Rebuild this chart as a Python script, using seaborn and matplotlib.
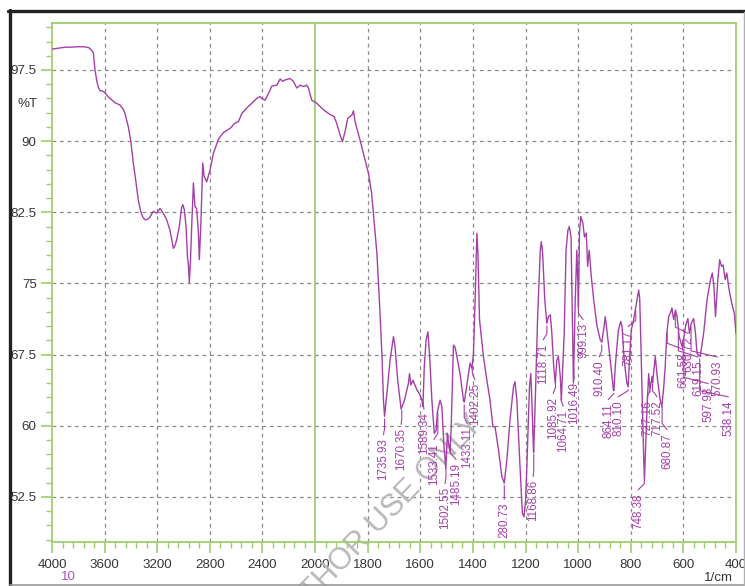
import numpy as np
import pandas as pd
import matplotlib
matplotlib.use("Agg")
import matplotlib.pyplot as plt
import seaborn as sns
from matplotlib.lines import Line2D
from matplotlib.ticker import FixedLocator

# ---- FTIR spectrum (wavenumber in 1/cm, transmittance in %T) ----
wavenumber = [
    4000, 3950, 3900, 3863, 3800, 3762, 3720, 3700, 3686, 3673, 3660, 3648,
    3635, 3620, 3605, 3580, 3559, 3521, 3483, 3460, 3445, 3420, 3402, 3382,
    3361, 3344, 3326, 3310, 3293, 3275, 3260, 3230, 3204, 3179, 3154, 3128,
    3103, 3085, 3078, 3065, 3052, 3032, 3015, 3005, 2994, 2981, 2970, 2963,
    2956, 2947, 2938, 2925, 2913, 2900, 2887, 2880, 2869, 2854, 2844, 2824,
    2798, 2773, 2735, 2697, 2646, 2608, 2583, 2557, 2519, 2481, 2443, 2420,
    2405, 2380, 2355, 2329, 2291, 2266, 2245, 2228, 2190, 2165, 2139, 2114,
    2089, 2063, 2051, 2025, 1994, 1968, 1943, 1928, 1918, 1905, 1896, 1886,
    1876, 1860, 1854, 1848, 1829, 1810, 1797, 1785, 1776, 1765, 1755, 1746,
    1740, 1736, 1727, 1715, 1702, 1696, 1686, 1673, 1660, 1645, 1641, 1636,
    1628, 1613, 1601, 1594, 1590, 1585, 1578, 1571, 1565, 1556, 1547, 1540,
    1535, 1525, 1518, 1510, 1503, 1497, 1492, 1487, 1483, 1474, 1468, 1461,
    1449, 1436, 1433, 1424, 1411, 1404, 1398, 1392, 1385, 1381, 1375, 1360,
    1347, 1335, 1324, 1316, 1303, 1290, 1281, 1271, 1259, 1246, 1240, 1233,
    1221, 1212, 1206, 1200, 1195, 1185, 1180, 1176, 1170, 1169, 1163, 1154,
    1144, 1140, 1135, 1127, 1119, 1113, 1106, 1100, 1093, 1087, 1081, 1075,
    1068, 1064, 1053, 1046, 1039, 1034, 1027, 1023, 1018, 1011, 1005, 1001,
    999, 995, 990, 982, 976, 969, 964, 958, 950, 941, 928, 916,
    910, 900, 897, 891, 878, 866, 864, 859, 847, 838, 833, 825,
    815, 810, 805, 798, 789, 783, 776, 770, 766, 761, 755, 751,
    748, 744, 738, 732, 727, 719, 717, 707, 698, 688, 682, 675,
    669, 663, 656, 647, 644, 637, 630, 624, 616, 605, 600, 591,
    583, 577, 570, 561, 554, 548, 536, 523, 510, 497, 490, 484,
    478, 469, 462, 455, 449, 441, 435, 426, 419, 413, 406, 400,
]
transmittance = [
    99.7, 99.8, 99.9, 99.9, 99.95, 99.95, 99.85, 99.6, 99.3, 97.5, 96.4, 95.7,
    95.3, 95.3, 95.2, 94.8, 94.5, 94.05, 93.8, 93.4, 92.9, 91.5, 90.1, 87.7,
    85.6, 83.8, 82.6, 82.0, 81.7, 81.75, 81.9, 82.6, 82.4, 82.9, 82.4, 81.7,
    80.6, 79.3, 78.7, 79.0, 79.6, 81.0, 83.0, 83.3, 82.75, 81.0, 77.8, 77.0,
    75.1, 77.5, 81.0, 85.6, 83.1, 82.9, 80.3, 77.5, 81.0, 87.7, 86.3, 85.7,
    87.0, 88.7, 90.2, 90.9, 91.35, 91.9, 92.05, 92.9, 93.5, 94.0, 94.5, 94.7,
    94.5, 94.3, 95.0, 95.8, 95.9, 96.55, 96.3, 96.45, 96.6, 96.3, 95.6, 95.9,
    95.75, 95.9, 95.6, 94.3, 94.0, 93.3, 92.8, 92.6, 91.9, 90.65, 89.95, 91.0,
    92.4, 92.75, 93.2, 92.05, 90.1, 88.0, 86.6, 84.5, 81.7, 78.2, 72.9, 67.6,
    62.7, 61.0, 63.4, 66.9, 69.4, 68.3, 64.8, 61.75, 62.7, 64.5, 65.5, 64.3,
    64.8, 63.8, 63.25, 62.7, 62.0, 66.2, 69.05, 69.9, 67.6, 62.7, 59.2, 59.5,
    61.5, 62.7, 62.0, 57.8, 55.5, 59.2, 58.0, 57.3, 59.5, 68.5, 68.3, 67.3,
    65.5, 62.7, 62.5, 64.1, 66.6, 66.05, 67.6, 72.9, 80.3, 78.2, 71.2, 67.3,
    64.8, 62.7, 59.9, 59.9, 57.5, 54.65, 53.95, 56.4, 60.6, 64.1, 64.65, 62.7,
    55.7, 50.8, 50.4, 52.0, 55.7, 64.1, 65.5, 62.7, 57.5, 57.2, 62.7, 71.5,
    78.5, 79.4, 78.2, 73.3, 70.8, 71.5, 71.7, 69.75, 66.25, 64.5, 66.9, 67.3,
    65.2, 62.7, 69.75, 78.5, 80.6, 81.0, 79.9, 73.3, 64.5, 73.3, 78.5, 75.0,
    72.55, 80.3, 82.05, 81.35, 79.9, 80.3, 76.8, 78.5, 75.7, 73.3, 70.45, 69.05,
    68.8, 70.8, 71.5, 70.1, 66.9, 63.8, 63.7, 66.25, 70.1, 71.0, 70.45, 66.9,
    64.5, 64.1, 66.9, 70.1, 71.2, 72.2, 73.3, 74.3, 73.4, 68.0, 61.0, 56.75,
    54.3, 57.5, 62.0, 65.5, 63.8, 65.2, 64.5, 67.3, 64.8, 62.7, 62.0, 64.0,
    66.25, 69.75, 71.5, 72.05, 72.4, 71.2, 72.2, 71.5, 69.4, 68.35, 69.05, 70.6,
    71.3, 69.75, 70.8, 71.3, 69.75, 67.6, 67.3, 69.75, 73.3, 75.4, 76.1, 74.65,
    71.5, 75.4, 77.5, 76.8, 76.95, 75.4, 76.1, 74.3, 73.3, 72.55, 71.8, 69.75,
]

# ---- peak picks ----
peak_positions = [
    1735.93, 1670.35, 1589.34, 1533.41, 1502.55, 1485.19, 1433.11, 1402.25,
    1280.73, 1168.86, 1118.71, 1085.92, 1064.71, 1016.49, 999.13, 910.40,
    864.11, 810.10, 781.17, 748.38, 727.16, 717.52, 680.87, 661.58,
    630.72, 619.15, 597.98, 570.93, 538.14,
]
peak_labels = [
    "1735.93", "1670.35", "1589.34", "1533.41", "1502.55", "1485.19", "1433.11",
    "1402.25", "280.73", "1168.86", "1118.71", "1085.92", "1064.71", "1016.49",
    "999.13", "910.40", "864.11", "810.10", "781.17", "748.38", "727.16",
    "717.52", "680.87", "661.58", "630.72", "619.15", "597.98", "570.93",
    "538.14",
]
# where each rotated tag is placed (x in 1/cm, top edge in %T)
label_x = [
    1740, 1673, 1586, 1548, 1506, 1464, 1422, 1392, 1281, 1171, 1133, 1095,
    1057, 1015, 981, 920, 886, 848, 810, 772, 738, 700, 662, 601,
    582, 544, 506, 471, 429,
]
label_top = [
    58.7, 59.8, 61.4, 58.2, 53.55, 56.1, 59.9, 64.5, 51.9, 54.3, 68.7, 63.05,
    61.7, 64.6, 70.85, 66.9, 62.4, 62.7, 70.1, 52.9, 62.7, 62.7, 59.25, 67.7,
    69.4, 66.9, 64.1, 66.9, 62.7,
]

x_major = [4000, 3600, 3200, 2800, 2400, 2000, 1800, 1600, 1400, 1200,
           1000, 800, 600, 400]
y_major = [52.5, 60, 67.5, 75, 82.5, 90, 97.5]

PURPLE = "#a43fa8"
GREEN = "#9dcf6e"
GRID = "#8a8a8a"
TEXT = "#363636"

sns.set_style("ticks")
plt.rcParams["font.family"] = ["Liberation Sans", "DejaVu Sans"]

fig = plt.figure(figsize=(7.45, 5.86), dpi=100)
fig.patch.set_facecolor("white")
ax = fig.add_axes([52 / 745, 1 - 542 / 586, (736 - 52) / 745, (542 - 23) / 586])

df = pd.DataFrame({"wavenumber": wavenumber, "T": transmittance})
sns.lineplot(data=df, x="wavenumber", y="T", sort=False, estimator=None,
             color=PURPLE, lw=1.0, ax=ax, zorder=3)


# the range below 2000 1/cm is drawn at twice the scale of the range above it
def _fwd(x):
    x = np.asarray(x, dtype=float)
    return np.where(x >= 2000, x, 2 * x - 2000)


def _inv(y):
    y = np.asarray(y, dtype=float)
    return np.where(y >= 2000, y, (y + 2000) / 2)


ax.set_xscale("function", functions=(_fwd, _inv))
ax.set_xlim(4000, 400)
ax.set_ylim(47.75, 102.45)

x_minor = [v for v in range(3920, 2000, -80)] + \
          [v for v in range(1960, 400, -40) if v % 200 != 0]
y_minor = [v for v in np.arange(48.0, 102.1, 1.5) if round(v % 7.5, 3) != 0]
ax.xaxis.set_major_locator(FixedLocator(x_major))
ax.xaxis.set_minor_locator(FixedLocator(x_minor))
ax.yaxis.set_major_locator(FixedLocator(y_major))
ax.yaxis.set_minor_locator(FixedLocator(y_minor))
ax.set_xticklabels([str(v) for v in x_major])
ax.set_yticklabels(["52.5", "60", "67.5", "75", "82.5", "90", "97.5"])
ax.set_xlabel("")
ax.set_ylabel("")

ax.tick_params(axis="both", which="major", direction="out", color=GREEN,
               length=8, width=1.2, labelsize=9.6, labelcolor=TEXT, pad=3)
ax.tick_params(axis="both", which="minor", direction="out", color=GREEN,
               length=4, width=1.0)
ax.tick_params(axis="x", which="major", pad=4)
for side in ["left", "right", "top", "bottom"]:
    ax.spines[side].set_visible(True)
    ax.spines[side].set_color(GREEN)
    ax.spines[side].set_linewidth(1.3)

# dashed grid; the scale change at 2000 1/cm is marked with a solid line
for v in x_major[1:-1]:
    if v == 2000:
        ax.axvline(v, color=GREEN, lw=1.3, zorder=2)
    else:
        ax.axvline(v, color=GRID, lw=0.9, ls=(0, (3, 3)), zorder=1)
for v in y_major:
    ax.axhline(v, color=GRID, lw=0.9, ls=(0, (3, 3)), zorder=1)

# peak tags with leader lines
for pos, lab, lx, ly in zip(peak_positions, peak_labels, label_x, label_top):
    t_at = float(np.interp(pos, wavenumber[::-1], transmittance[::-1]))
    ax.plot([pos, pos, lx], [t_at - 0.3, ly + 1.0, ly + 0.35],
            color=PURPLE, lw=0.8, zorder=3)
    ax.text(lx, ly, lab, rotation=90, ha="center", va="top", fontsize=8.4,
            color=PURPLE, zorder=4)

# watermark
ax.text(478 / 745, 1 - 420 / 586, "FOR AUTHOR USE ONLY", transform=fig.transFigure,
        rotation=46, rotation_mode="anchor", ha="right", va="center",
        fontsize=22, color="#b8b8b8", clip_on=False, zorder=2.5)

fig.text(38 / 745, 1 - 104 / 586, "%T", ha="right", va="center",
         fontsize=9.6, color=TEXT)
fig.text(68 / 745, 1 - 577 / 586, "10", ha="center", va="center",
         fontsize=9.6, color="#b050b8")
fig.text(718 / 745, 1 - 578 / 586, "1/cm", ha="center", va="center",
         fontsize=9.6, color=TEXT)

# panel border
fig.add_artist(Line2D([8 / 745, 1], [1 - 11 / 586] * 2, transform=fig.transFigure,
                      color="#222222", lw=2.4))
fig.add_artist(Line2D([9.5 / 745] * 2, [0, 1 - 10 / 586], transform=fig.transFigure,
                      color="#222222", lw=2.4))
fig.add_artist(Line2D([10 / 745, 1], [1.5 / 586] * 2, transform=fig.transFigure,
                      color="#9a9a9a", lw=1.2))
fig.add_artist(Line2D([744 / 745] * 2, [0, 1 - 12 / 586], transform=fig.transFigure,
                      color="#b0b0b0", lw=1.0))

fig.savefig("out.png", dpi=100)
